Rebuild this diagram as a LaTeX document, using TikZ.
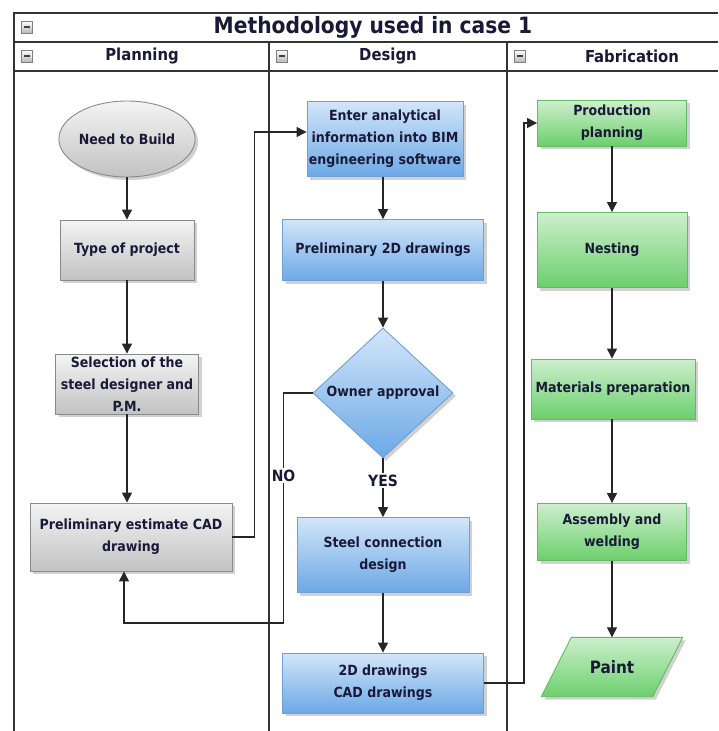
\documentclass[tikz,border=0pt]{standalone}
\usepackage{fontspec}
\setmainfont{DejaVu Sans Condensed}
\usetikzlibrary{shapes.geometric,shadows,arrows.meta,calc}

\definecolor{txt}{HTML}{1A1A38}
\definecolor{framec}{HTML}{333333}
\definecolor{grayT}{HTML}{F4F4F4}
\definecolor{grayB}{HTML}{C2C2C2}
\definecolor{grayD}{HTML}{8A8A8A}
\definecolor{blueT}{HTML}{D2E6F9}
\definecolor{blueB}{HTML}{6CA8E6}
\definecolor{blueD}{HTML}{6E9FD6}
\definecolor{greenT}{HTML}{CDEFCD}
\definecolor{greenB}{HTML}{6CCF6C}
\definecolor{greenD}{HTML}{62BA62}

\begin{document}
\begin{tikzpicture}[x=1pt,y=-1pt,
  frame/.style={draw=framec,line width=1.3pt},
  shadowed/.style={drop shadow={shadow xshift=3pt,shadow yshift=-3pt,fill=black,opacity=0.18}},
  box/.style={line width=0.9pt,align=center,inner sep=0pt,text=txt,
    font=\bfseries\fontsize{14}{22}\selectfont,shadowed},
  graybox/.style={box,draw=grayD,top color=grayT,bottom color=grayB},
  bluebox/.style={box,draw=blueD,top color=blueT,bottom color=blueB},
  greenbox/.style={box,draw=greenD,top color=greenT,bottom color=greenB},
  sz/.style 2 args={minimum width=#1pt,minimum height=#2pt},
  arr/.style={draw=black!85,line width=1.3pt,-{Triangle[length=10pt,width=10pt]}},
  lbl/.style={fill=white,inner sep=1.5pt,text=txt,font=\bfseries\fontsize{15.5}{18}\selectfont},
  head/.style={text=txt,font=\bfseries\fontsize{16.5}{20}\selectfont},
  minus/.style={draw=gray,line width=0.6pt,top color=white,bottom color=gray!55,
    minimum width=11pt,minimum height=12pt,inner sep=0pt,
    path picture={\draw[black!75,line width=1.3pt]
      ([xshift=-3pt]path picture bounding box.center) --
      ([xshift=3pt]path picture bounding box.center);}}
]
\useasboundingbox (0,0) rectangle (718,731);
\fill[white] (0,0) rectangle (718,731);

% swimlane frame
\draw[frame] (14,731) -- (14,13) -- (718,13);
\draw[frame] (14,42) -- (718,42);
\draw[frame] (14,71) -- (718,71);
\draw[frame] (269,42) -- (269,731);
\draw[frame] (507,42) -- (507,731);

% titles
\node[text=txt,font=\bfseries\fontsize{22.5}{26}\selectfont] (title) at (373,27) {Methodology used in case 1};
\node[head] (hplan) at (142,56) {Planning};
\node[head] (hdes) at (388,56) {Design};
\node[head] (hfab) at (632,56) {Fabrication};
\node[minus] (mt) at (27,27) {};
\node[minus] (mp) at (27,56) {};
\node[minus] (md) at (282,56) {};
\node[minus] (mf) at (520,56) {};

% planning lane
\node[graybox,ellipse,sz={135}{76}] (need) at (127,139) {Need to Build};
\node[graybox,sz={134}{60}] (type) at (127,250) {Type of project};
\node[graybox,sz={143}{60}] (sel) at (127,384) {Selection of the\\steel designer and\\P.M.};
\node[graybox,sz={202}{68}] (pest) at (131,537) {Preliminary estimate CAD\\drawing};

% design lane
\node[bluebox,sz={156}{75}] (enter) at (385,139) {Enter analytical\\information into BIM\\engineering software};
\node[bluebox,sz={201}{61}] (p2d) at (383,250) {Preliminary 2D drawings};
\node[bluebox,diamond,sz={140}{130}] (owner) at (383,393) {Owner approval};
\node[bluebox,sz={172}{75}] (steel) at (383,555) {Steel connection\\design};
\node[bluebox,sz={201}{60}] (cad) at (383,683) {2D drawings\\CAD drawings};

% fabrication lane
\node[greenbox,sz={149}{46}] (prod) at (612,123) {Production\\planning};
\node[greenbox,sz={150}{75}] (nest) at (612,250) {Nesting};
\node[greenbox,sz={164}{60}] (mat) at (613,389) {Materials preparation};
\node[greenbox,sz={149}{57}] (asm) at (612,532) {Assembly and\\welding};
% data symbol: a slanted parallelogram around the text node
\node[sz={141}{59},inner sep=0pt] (paint) at (612,667) {};
\path[shadowed,draw=greenD,line width=0.9pt,top color=greenT,bottom color=greenB]
  (paint.south west) -- ([xshift=30pt]paint.north west) -- (paint.north east)
  -- ([xshift=-30pt]paint.south east) -- cycle;
\node[text=txt,font=\bfseries\fontsize{17}{20}\selectfont] at (paint.center) {Paint};

% connectors
\draw[arr] (need) -- (type);
\draw[arr] (type) -- (sel);
\draw[arr] (sel.south) -- (sel.south |- pest.north);
\draw[arr] (pest.east) -- ++(22,0) |- ([yshift=7pt]enter.west);
\draw[arr] (enter.south -| p2d.north) -- (p2d.north);
\draw[arr] (p2d) -- (owner);
\draw[arr] (owner.south) -- node[lbl,pos=0.38] {YES} (steel.north);
\draw[arr] (owner.west) -- ++(-29,0) -- ++(0,230) node[lbl,pos=0.36] {NO}
  -| ([xshift=-7pt]pest.south);
\draw[arr] (steel) -- (cad);
\draw[arr] (cad.east) -- ++(40,0) |- (prod.west);
\draw[arr] (prod) -- (nest);
\draw[arr] (nest.south) -- (nest.south |- mat.north);
\draw[arr] (mat.south -| asm.north) -- (asm.north);
\draw[arr] (asm) -- (paint.north);
\end{tikzpicture}
\end{document}
